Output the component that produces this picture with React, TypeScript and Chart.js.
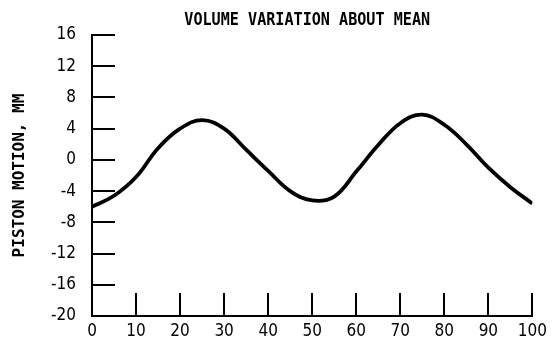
import { useEffect, useRef } from "react";
import { Chart, registerables } from "chart.js";

Chart.register(...registerables);

const crankAngle = [0, 5, 10, 15, 20, 25, 30, 35, 40, 45, 50, 55, 60, 65, 70, 75, 80, 85, 90, 95, 100];
const pistonMotion = [-6.0, -4.6, -2.2, 1.5, 4.0, 5.1, 4.0, 1.3, -1.4, -4.0, -5.2, -4.7, -1.5, 1.9, 4.7, 5.8, 4.5, 2.0, -1.0, -3.5, -5.6];
const yTickValues = [-20, -16, -12, -8, -4, 0, 4, 8, 12, 16];
const xTickValues = [0, 10, 20, 30, 40, 50, 60, 70, 80, 90, 100];
const titleText = "VOLUME VARIATION ABOUT MEAN";
const yTitleText = "PISTON MOTION, MM";

const TICK_FONT = "'DejaVu Sans Condensed', 'Liberation Sans', sans-serif";
const MONO_FONT = "'DejaVu Sans Mono', 'Liberation Mono', monospace";

const inwardTicks = {
  id: "inwardTicks",
  afterDraw(chart: any) {
    const { ctx, scales } = chart;
    const xs = scales.x;
    const ys = scales.y;
    ctx.save();
    ctx.strokeStyle = "#000";
    ctx.lineWidth = 2;
    ctx.beginPath();
    for (const v of yTickValues) {
      if (v === -20) continue;
      const py = Math.round(ys.getPixelForValue(v));
      ctx.moveTo(xs.left, py);
      ctx.lineTo(xs.left + 23, py);
    }
    for (const v of xTickValues) {
      if (v === 0) continue;
      const px = Math.round(xs.getPixelForValue(v));
      ctx.moveTo(px, ys.bottom);
      ctx.lineTo(px, ys.bottom - 23);
    }
    ctx.stroke();
    // title, slightly condensed like the original lettering
    const cx = (chart.chartArea.left + chart.chartArea.right) / 2 - 5;
    ctx.fillStyle = "#000";
    ctx.font = `bold 18px ${MONO_FONT}`;
    ctx.textAlign = "center";
    ctx.textBaseline = "alphabetic";
    ctx.translate(cx, 25);
    ctx.scale(0.84, 1);
    ctx.fillText(titleText, 0, 0);
    ctx.restore();
  },
};

export default function App() {
  const ref = useRef<HTMLCanvasElement | null>(null);
  useEffect(() => {
    if (!ref.current) return;
    const chart = new Chart(ref.current, {
      type: "line",
      data: {
        datasets: [
          {
            data: crankAngle.map((x, i) => ({ x, y: pistonMotion[i] })),
            borderColor: "#000",
            borderWidth: 3.8,
            pointRadius: 0,
            tension: 0.4,
            fill: false,
          },
        ],
      },
      options: {
        responsive: false,
        animation: false,
        layout: { padding: { left: 0, right: 19, top: 35, bottom: 0 } },
        plugins: {
          legend: { display: false },
          tooltip: { enabled: false },
          title: { display: false },
        },
        scales: {
          x: {
            type: "linear",
            min: 0,
            max: 100,
            afterBuildTicks: (s: any) => {
              s.ticks = xTickValues.map((v) => ({ value: v }));
            },
            afterFit: (s: any) => {
              s.height = 30;
            },
            grid: { display: false, drawTicks: false },
            border: { display: true, color: "#000", width: 2 },
            ticks: { color: "#000", padding: 5, font: { family: TICK_FONT, size: 17 }, maxRotation: 0 },
          },
          y: {
            type: "linear",
            min: -20,
            max: 16,
            afterBuildTicks: (s: any) => {
              s.ticks = yTickValues.map((v) => ({ value: v }));
            },
            afterFit: (s: any) => {
              s.width = 92;
            },
            grid: { display: false, drawTicks: false },
            border: { display: true, color: "#000", width: 2 },
            ticks: { color: "#000", padding: 16, font: { family: TICK_FONT, size: 17 } },
            title: {
              display: true,
              text: yTitleText,
              color: "#000",
              font: { family: MONO_FONT, size: 16, weight: "bold" },
              padding: { top: 10, bottom: 0 },
            },
          },
        },
      },
      plugins: [inwardTicks],
    });
    return () => chart.destroy();
  }, []);
  return (
    <div style={{ position: "fixed", left: 0, top: 0, width: 552, height: 346, background: "#fff" }}>
      <canvas ref={ref} width={552} height={346} />
    </div>
  );
}
